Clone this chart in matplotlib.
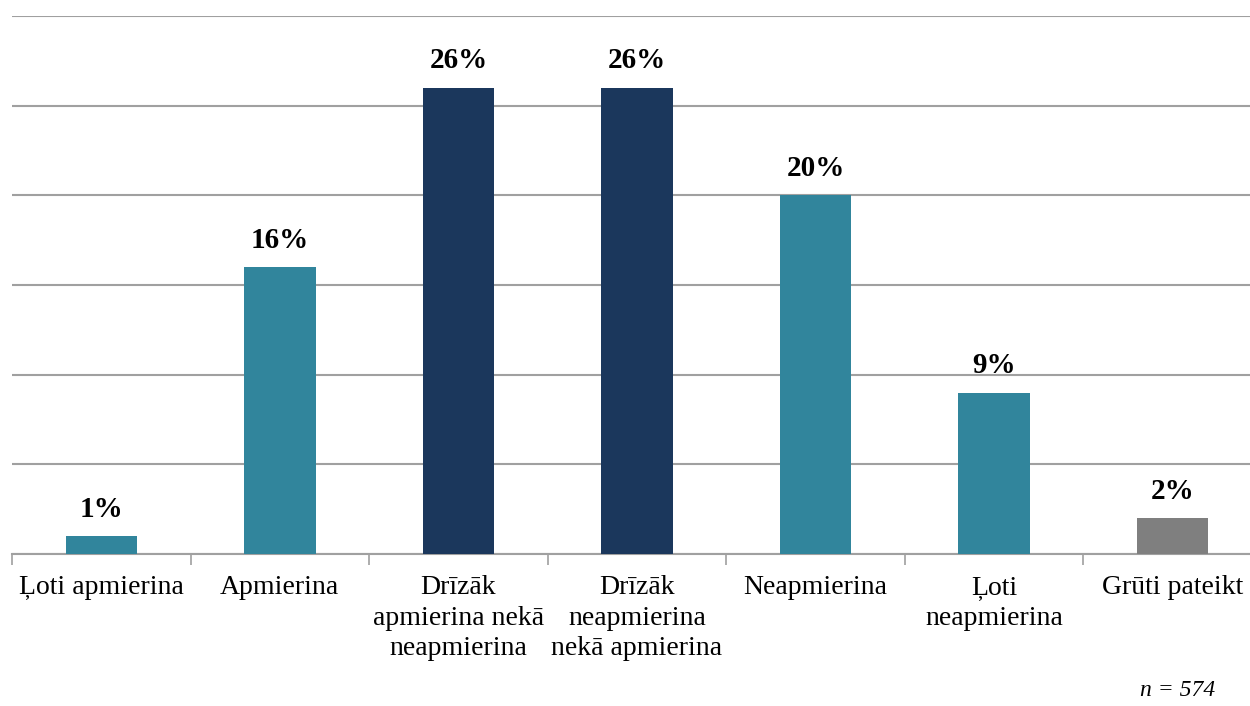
import matplotlib
matplotlib.use('Agg')
import matplotlib.pyplot as plt
import numpy as np

categories = ['Ļoti apmierina', 'Apmierina', 'Drīzāk\napmierina nekā\nneapmierina',
              'Drīzāk\nneapmierina\nnekā apmierina', 'Neapmierina', 'Ļoti\nneapmierina',
              'Grūti pateikt']
values = [1, 16, 26, 26, 20, 9, 2]
labels = ['1%', '16%', '26%', '26%', '20%', '9%', '2%']
colors = ['#31859C', '#31859C', '#1B375C', '#1B375C', '#31859C', '#31859C', '#7F7F7F']

plt.rcParams['font.family'] = ['Liberation Serif', 'DejaVu Serif']

fig = plt.figure(figsize=(12.5, 7.06), dpi=100)
ax = fig.add_axes([12 / 1250, 152 / 706, 1250 / 1250, 538 / 706])

x = np.arange(len(categories))
bars = ax.bar(x, values, width=0.4, color=colors, zorder=3)

for xi, v, lab in zip(x, values, labels):
    ax.text(xi, v + 0.75, lab, ha='center', va='bottom', fontsize=21, fontweight='bold')

ax.set_xlim(-0.5, len(categories) - 0.5)
ax.set_ylim(0, 30)
ax.set_yticks(np.arange(0, 31, 5))
ax.yaxis.grid(True, color='#A0A0A0', linewidth=1.5, zorder=0)
ax.tick_params(axis='y', left=False, labelleft=False)

ax.set_xticks(x)
ax.set_xticklabels(categories, fontsize=20, linespacing=1.3, va='top')
ax.tick_params(axis='x', which='major', length=0, pad=15)
ax.set_xticks(np.arange(-0.5, len(categories), 1), minor=True)
ax.tick_params(axis='x', which='minor', length=8, width=1.2, color='#A0A0A0')

for s in ['top', 'right', 'left']:
    ax.spines[s].set_visible(False)
ax.spines['bottom'].set_color('#A0A0A0')
ax.spines['bottom'].set_linewidth(1.5)

fig.text(1215 / 1250, 1 - 691 / 706, 'n = 574', ha='right', va='center',
         fontsize=17, style='italic')

fig.savefig('out.png', dpi=100)
